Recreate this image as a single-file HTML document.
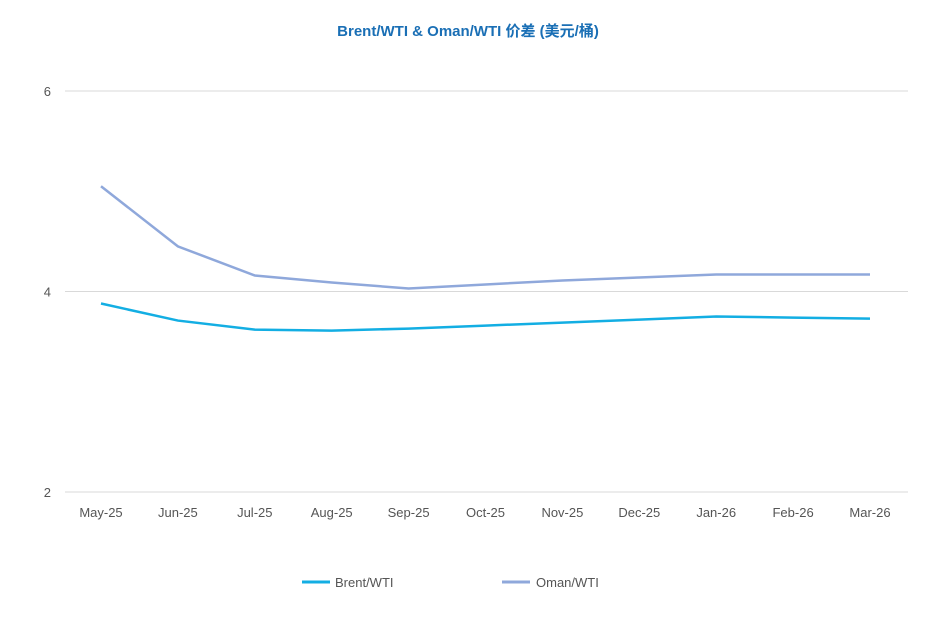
<!DOCTYPE html>
<html><head><meta charset="utf-8">
<style>
html,body{margin:0;padding:0;background:#fff;}
body{width:937px;height:634px;overflow:hidden;font-family:"Liberation Sans","Noto Sans CJK SC",sans-serif;}
</style></head>
<body>
<svg id="chart" width="937" height="634" xmlns="http://www.w3.org/2000/svg">
<text x="468" y="36" text-anchor="middle" font-size="15" font-weight="bold" fill="#1a6fb5" font-family="Liberation Sans, Noto Sans CJK SC, sans-serif">Brent/WTI &amp; Oman/WTI 价差 (美元/桶)</text>
<g id="grid"></g>
<g id="series"></g>
<g>
<line x1="302" y1="582" x2="330" y2="582" stroke="#13aee3" stroke-width="3"/>
<text x="335" y="587" font-size="13" fill="#555">Brent/WTI</text>
<line x1="502" y1="582" x2="530" y2="582" stroke="#8fa8db" stroke-width="3"/>
<text x="536" y="587" font-size="13" fill="#555">Oman/WTI</text>
</g>
</svg>
<script>
const categories=["May-25","Jun-25","Jul-25","Aug-25","Sep-25","Oct-25","Nov-25","Dec-25","Jan-26","Feb-26","Mar-26"];
const brentWti=[3.88,3.71,3.62,3.61,3.63,3.66,3.69,3.72,3.75,3.74,3.73];
const omanWti=[5.05,4.45,4.16,4.09,4.03,4.07,4.11,4.14,4.17,4.17,4.17];
const yTicks=[2,4,6];

const NS="http://www.w3.org/2000/svg";
function xPos(i){return 101+i*(870-101)/(categories.length-1);}
function yPos(v){return 492-(v-2)*(492-91)/4;}
const grid=document.getElementById('grid');
yTicks.forEach(t=>{
  const l=document.createElementNS(NS,'line');
  
  
  l.setAttribute('x1',65);l.setAttribute('x2',908);
  l.setAttribute('y1',yPos(t));l.setAttribute('y2',yPos(t));
  l.setAttribute('stroke','#d9d9d9');l.setAttribute('stroke-width',1);
  grid.appendChild(l);
  const tx=document.createElementNS(NS,'text');
  
  
  tx.setAttribute('x',51);tx.setAttribute('y',yPos(t)+5);
  tx.setAttribute('text-anchor','end');tx.setAttribute('font-size',13);tx.setAttribute('fill','#555');
  tx.textContent=t;grid.appendChild(tx);
});
categories.forEach((c,i)=>{
  const tx=document.createElementNS(NS,'text');
  
  
  tx.setAttribute('x',xPos(i));tx.setAttribute('y',517);
  tx.setAttribute('text-anchor','middle');tx.setAttribute('font-size',13);tx.setAttribute('fill','#555');
  tx.textContent=c;grid.appendChild(tx);
});
const ser=document.getElementById('series');
function draw(vals,color,name){
  const p=document.createElementNS(NS,'polyline');
  
  
  p.setAttribute('points',vals.map((v,i)=>xPos(i)+','+yPos(v)).join(' '));
  p.setAttribute('fill','none');p.setAttribute('stroke',color);p.setAttribute('stroke-width',2.5);
  ser.appendChild(p);
}
draw(brentWti,'#13aee3','brent-wti-line');
draw(omanWti,'#8fa8db','oman-wti-line');
</script>
</body></html>
